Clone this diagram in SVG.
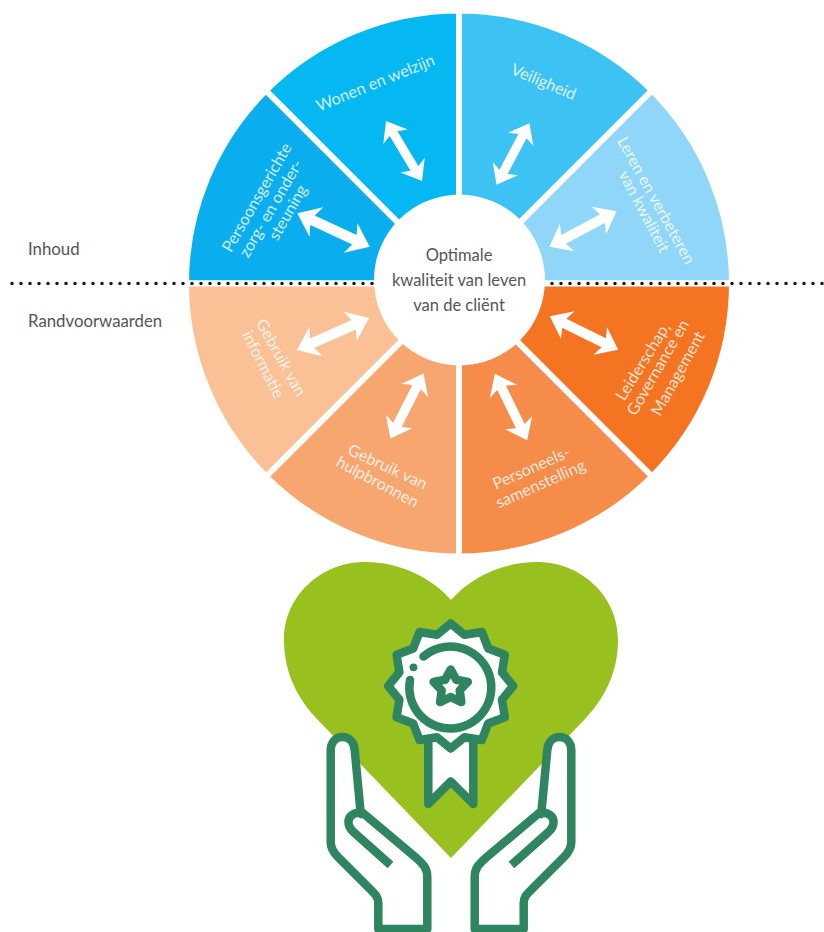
<svg xmlns="http://www.w3.org/2000/svg" xmlns:xlink="http://www.w3.org/1999/xlink" width="824" height="932" viewBox="0 0 824 932">
<style>
.sec{stroke:#fff;stroke-width:6}
.lbl{font-family:"Lato","Open Sans",sans-serif;font-size:16.2px;fill:#fff;fill-opacity:.82;text-anchor:middle;dominant-baseline:central}
.dark{font-family:"Lato","Open Sans",sans-serif;font-size:16.8px;fill:#555}
.mid{font-size:16.5px;text-anchor:middle}
.ico{fill:#fff;stroke:#2f8560;stroke-width:8.5;stroke-linejoin:round;stroke-linecap:round}
.ln{fill:none}
</style>
<defs>
<polygon id="arr" points="-38,0 -18,-15.5 -22,-5 22,-5 18,-15.5 38,0 18,15.5 22,5 -22,5 -18,15.5" fill="#fff"/>
<g id="hand">
<path class="ico" d="M378.3 929V903C378.3 897 375 894 370 889L338 857C333 852 330.7 848 330.7 842V751C330.7 742 336 737 342.5 737S354 742 354.7 750L360.5 811L416.7 858.3C423 864 427.3 868 427.3 877V929Z"/>
<path class="ico ln" style="stroke-linecap:butt" d="M390.5 865L353.5 832C346 825 348 818 352 815C356 812 360 812 364 815.5"/>
</g>
</defs>
<g id="wheel">
<g id="n-persoons"><path class="sec" fill="#0aaeef" d="M459 283.5L186 283.5A273 273 0 0 1 266 90.5Z"/></g>
<g id="n-wonen"><path class="sec" fill="#05b8f2" d="M459 283.5L266 90.5A273 273 0 0 1 459 10.5Z"/></g>
<g id="n-veilig"><path class="sec" fill="#3cc3f3" d="M459 283.5L459 10.5A273 273 0 0 1 652 90.5Z"/></g>
<g id="n-leren"><path class="sec" fill="#8fd6f8" d="M459 283.5L652 90.5A273 273 0 0 1 732 283.5Z"/></g>
<g id="n-leider"><path class="sec" fill="#f47421" d="M459 283.5L732 283.5A273 273 0 0 1 652 476.5Z"/></g>
<g id="n-personeel"><path class="sec" fill="#f58c4a" d="M459 283.5L652 476.5A273 273 0 0 1 459 556.5Z"/></g>
<g id="n-hulp"><path class="sec" fill="#f8a66f" d="M459 283.5L459 556.5A273 273 0 0 1 266 476.5Z"/></g>
<g id="n-info"><path class="sec" fill="#fbc196" d="M459 283.5L266 476.5A273 273 0 0 1 186 283.5Z"/></g>
<use xlink:href="#arr" href="#arr" transform="translate(333.5 230) rotate(25) scale(1.05)"/>
<use xlink:href="#arr" href="#arr" transform="translate(404 151) rotate(59) scale(.92)"/>
<use xlink:href="#arr" href="#arr" transform="translate(513 154) rotate(-62) scale(.92)"/>
<use xlink:href="#arr" href="#arr" transform="translate(583 229) rotate(-28) scale(1)"/>
<use xlink:href="#arr" href="#arr" transform="translate(584 333) rotate(26) scale(1)"/>
<use xlink:href="#arr" href="#arr" transform="translate(511 407) rotate(64) scale(.97)"/>
<use xlink:href="#arr" href="#arr" transform="translate(407 406) rotate(-63) scale(.96)"/>
<use xlink:href="#arr" href="#arr" transform="translate(333 334) rotate(-24) scale(1.04)"/>
<text class="lbl" transform="translate(375 82) rotate(-22)">Wonen en welzijn</text>
<text class="lbl" transform="translate(256 197) rotate(-60)">Persoonsgerichte</text>
<text class="lbl" transform="translate(270 208) rotate(-60)">zorg- en onder-</text>
<text class="lbl" transform="translate(287 212) rotate(-60)">steuning</text>
<text class="lbl" transform="translate(544 81) rotate(22.7)">Veiligheid</text>
<text class="lbl" transform="translate(657 200) rotate(61)">Leren en verbeteren</text>
<text class="lbl" transform="translate(645 211) rotate(62)">van kwaliteit</text>
<text class="lbl" transform="translate(642 361) rotate(-58)">Leiderschap,</text>
<text class="lbl" transform="translate(657 367) rotate(-60)">Governance en</text>
<text class="lbl" transform="translate(677 373) rotate(-61)">Management</text>
<text class="lbl" transform="translate(531 467) rotate(-24)">Personeels-</text>
<text class="lbl" transform="translate(540 483) rotate(-24)">samenstelling</text>
<text class="lbl" transform="translate(388 466) rotate(25)">Gebruik van</text>
<text class="lbl" transform="translate(378 481) rotate(28)">hulpbronnen</text>
<text class="lbl" transform="translate(282 357) rotate(61)">Gebruik van</text>
<text class="lbl" transform="translate(264 364) rotate(63)">informatie</text>
</g>
<g id="connectors">
<path d="M12 283.5H824" fill="none" stroke="#1a1a1a" stroke-width="3.6" stroke-linecap="round" stroke-dasharray="0 9"/>
</g>
<g id="n-centre">
<circle cx="459.5" cy="280" r="85.5" fill="#fff"/>
<text class="dark mid" x="459" y="261">Optimale</text>
<text class="dark mid" x="459" y="286">kwaliteit van leven</text>
<text class="dark mid" x="459" y="311">van de cliënt</text>
</g>
<g id="n-inhoud"><text class="dark" x="28" y="255">Inhoud</text></g>
<g id="n-rand"><text class="dark" x="28" y="327">Randvoorwaarden</text></g>
<g id="n-icon">
<path fill="#98c11f" d="M451 858L316 718C292 692 284 665 284 640C284 595 322 562 365 562C400 562 432 578 451 600C470 578 502 562 537 562C580 562 618 595 618 640C618 665 610 692 586 718Z"/>
<use xlink:href="#hand" href="#hand"/>
<use xlink:href="#hand" href="#hand" transform="translate(902 0) scale(-1 1)"/>
<path class="ico" d="M428.3 735V804L450.7 781.5L473.3 804V735Z"/>
<path class="ico" d="M450.7 623.5L464.4 634.8L481.9 632L488.2 648.6L504.8 654.8L502 672.3L513.2 686L502 699.7L504.8 717.2L488.2 723.4L481.9 740L464.4 737.2L450.7 748.5L437 737.2L419.5 740L413.2 723.4L396.6 717.2L399.4 699.7L388.2 686L399.4 672.3L396.6 654.8L413.2 648.6L419.5 632L437 634.8Z"/>
<path class="ico ln" d="M410 680A41 41 0 1 0 423.5 656.5"/>
<circle cx="413.5" cy="667.3" r="3.9" fill="#2f8560"/>
<path class="ico" d="M450.7 669.5L456.3 679.8L467.8 681.9L459.7 690.4L461.3 702.1L450.7 697L440.1 702.1L441.7 690.4L433.6 681.9L445.1 679.8Z"/>
</g>
</svg>
